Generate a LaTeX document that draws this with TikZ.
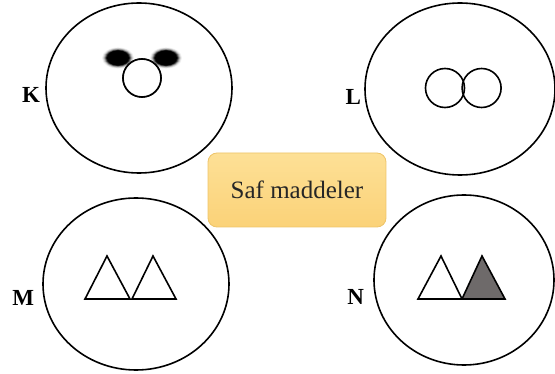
\documentclass[tikz,border=0pt]{standalone}
\usepackage{fontspec}
\setmainfont{Liberation Serif}
\usetikzlibrary{shapes.geometric}
\usetikzlibrary{positioning}
\definecolor{boxfilltop}{RGB}{253,224,150}
\definecolor{boxfillbot}{RGB}{251,210,120}
\definecolor{boxline}{RGB}{238,196,105}
\definecolor{darkgrey}{RGB}{110,106,106}
\tikzset{
    vessel/.style={
           ellipse,
           draw=black, line width=1.6pt,
           minimum width=186pt,
           minimum height=170pt,
           inner sep=0pt,
           },
    particle/.style={
           circle,
           draw=black, line width=1.6pt,
           minimum size=38pt,
           inner sep=0pt,
           },
    tag/.style={
           font=\fontsize{23}{26}\selectfont\bfseries,
           inner sep=1pt,
           },
    title/.style={
           rectangle,
           rounded corners=9pt,
           draw=boxline, line width=0.8pt,
           top color=boxfilltop, bottom color=boxfillbot,
           minimum width=178pt,
           minimum height=74pt,
           font=\fontsize{25}{29}\selectfont,
           text=black!85,
           },
    tri/.style={draw=black, line width=1.6pt, line join=miter},
}

\begin{document}
\begin{tikzpicture}[x=1pt,y=-1pt]
   \useasboundingbox (0,0) rectangle (555,374);

   % the four vessels, placed at coordinates
   \node[vessel] (K) at (139,88) {};
   \node[vessel,minimum width=190pt,minimum height=172pt] (L) at (460,89) {};
   \node[vessel,minimum height=172pt] (M) at (136,284) {};
   \node[vessel,minimum width=180pt] (N) at (464,280) {};

   % letters next to each vessel
   \node[tag,left=4pt of K.west,yshift=-7pt] (Ktag) {K};
   \node[tag,left=2pt of L.west,yshift=-8pt] (Ltag) {L};
   \node[tag,left=7pt of M.west,yshift=-14pt] (Mtag) {M};
   \node[tag,left=8pt of N.west,yshift=-17pt] (Ntag) {N};

   % middle box
   \node[title] (SAF) at (297,190) {Saf maddeler};

   % K: one particle with two fuzzy black blobs
   \node[particle] (Kcore) at (142,78) {};
   \foreach \cx in {118,166} {
      \foreach \r/\op in {16/0.06,15/0.12,14/0.22,13/0.4,12/0.7} {
         \fill[black,opacity=\op] (\cx,58) ellipse ({\r} and {\r*0.66});
      }
      \fill[black] (\cx,58) ellipse (11 and 7.5);
   }
   \node[particle,fill=white] at (Kcore) {};

   % L: two particles side by side
   \node[particle,minimum size=39pt] (Lleft) at (445,88) {};
   \node[particle,minimum size=39pt,right=-4pt of Lleft] (Lright) {};

   % M: two white triangles
   \draw[tri] (85,299) -- (107,256) -- (130,299) -- cycle;
   \draw[tri] (132,299) -- (153,256) -- (176,299) -- cycle;

   % N: one white and one grey triangle
   \draw[tri] (418,299) -- (441,256) -- (462,299) -- cycle;
   \draw[tri,fill=darkgrey] (462,299) -- (482,256) -- (505,299) -- cycle;

\end{tikzpicture}
\end{document}
